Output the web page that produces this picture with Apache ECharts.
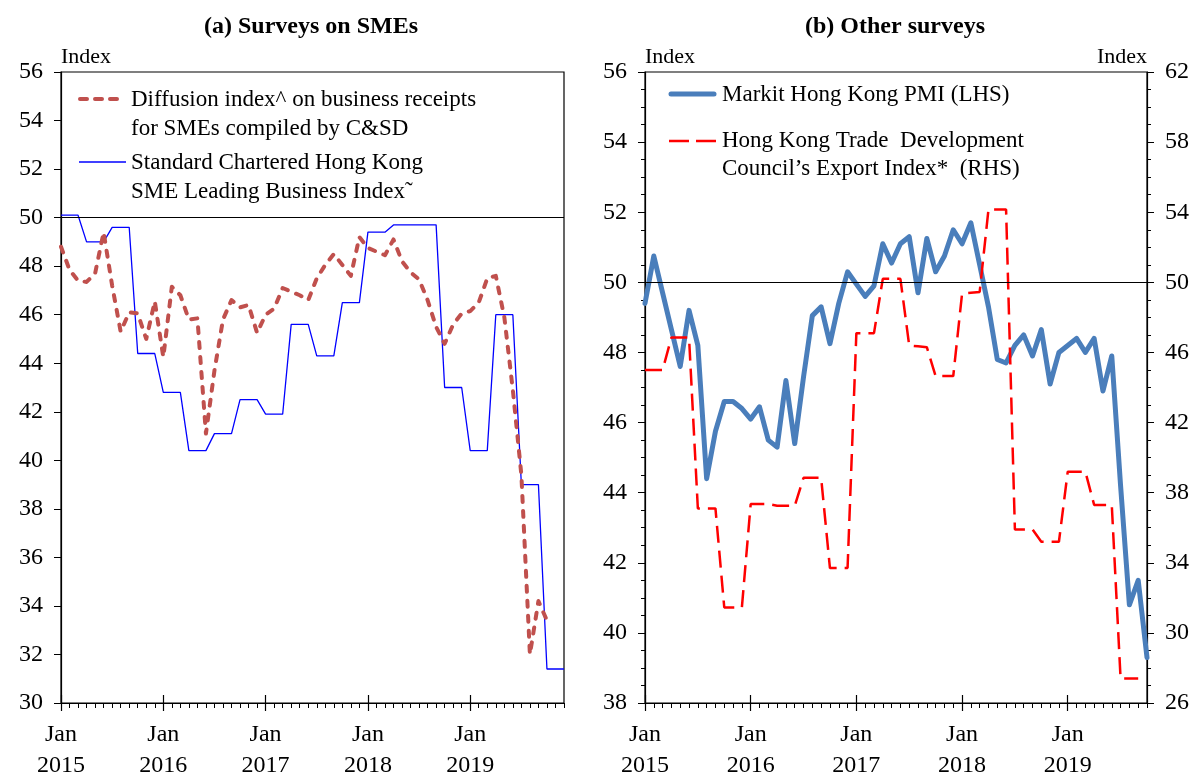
<!DOCTYPE html>
<html>
<head>
<meta charset="utf-8">
<script src="https://cdn.jsdelivr.net/npm/echarts@6/dist/echarts.min.js"></script>
<style>
  html, body { margin: 0; padding: 0; background: #fff; }
  #chart { width: 1198px; height: 773px; }
</style>
</head>
<body>
<div id="chart"></div>
<script>
// tick labels / categories
const yearLabels = ["2015", "2016", "2017", "2018", "2019"];
const monthNames = ["Jan", "Feb", "Mar", "Apr", "May", "Jun", "Jul", "Aug", "Sep", "Oct", "Nov", "Dec"];
const ticksA = [30, 32, 34, 36, 38, 40, 42, 44, 46, 48, 50, 52, 54, 56];
const ticksBLeft = [38, 40, 42, 44, 46, 48, 50, 52, 54, 56];
const ticksBRight = [26, 30, 34, 38, 42, 46, 50, 54, 58, 62];

// (a) C&SD diffusion index on business receipts for SMEs, monthly Jan 2015 - Oct 2019
const smeDiffusion = [
  48.8, 47.85, 47.4, 47.35, 47.7, 49.4, 47.2, 45.3, 46.1, 46.05, 45.0, 46.55,
  44.25, 47.15, 46.8, 45.8, 45.85, 41.1, 43.7, 45.8, 46.6, 46.3, 46.4, 45.25,
  46.0, 46.25, 47.1, 46.95, 46.8, 46.6, 47.5, 48.05, 48.5, 48.05, 47.6, 49.2,
  48.75, 48.6, 48.45, 49.1, 48.2, 47.75, 47.45, 46.6, 45.5, 44.8, 45.6, 46.05,
  46.15, 46.5, 47.5, 47.6, 45.9, 42.9, 39.4, 32.0, 34.2, 33.4
];

// (a) Standard Chartered HK SME Leading Business Index (quarterly, shown monthly), Jan 2015 - Dec 2019
const scSmeIndex = [
  50.1, 50.1, 50.1, 49.0, 49.0, 49.0, 49.6, 49.6, 49.6, 44.4, 44.4, 44.4,
  42.8, 42.8, 42.8, 40.4, 40.4, 40.4, 41.1, 41.1, 41.1, 42.5, 42.5, 42.5,
  41.9, 41.9, 41.9, 45.6, 45.6, 45.6, 44.3, 44.3, 44.3, 46.5, 46.5, 46.5,
  49.4, 49.4, 49.4, 49.7, 49.7, 49.7, 49.7, 49.7, 49.7, 43.0, 43.0, 43.0,
  40.4, 40.4, 40.4, 46.0, 46.0, 46.0, 39.0, 39.0, 39.0, 31.4, 31.4, 31.4
];

// (b) Markit Hong Kong PMI, Jan 2015 - Oct 2019 (LHS)
const pmi = [
  49.4, 50.75, 49.7, 48.65, 47.6, 49.2, 48.2, 44.4, 45.75, 46.6, 46.6, 46.4,
  46.1, 46.45, 45.5, 45.3, 47.2, 45.4, 47.3, 49.05, 49.3, 48.25, 49.4, 50.3,
  49.95, 49.6, 49.9, 51.1, 50.55, 51.1, 51.3, 49.7, 51.25, 50.3, 50.75, 51.5,
  51.1, 51.7, 50.5, 49.3, 47.8, 47.7, 48.2, 48.5, 47.9, 48.65, 47.1, 48.0,
  48.2, 48.4, 48.0, 48.4, 46.9, 47.9, 44.2, 40.8, 41.5, 39.3
];

// (b) HKTDC Export Index (quarterly, shown monthly), Jan 2015 - Sep 2019 (RHS)
const tdcExport = [
  45.0, 45.0, 45.0, 46.85, 46.85, 46.85, 37.1, 37.1, 37.1, 31.45, 31.45, 31.45,
  37.35, 37.35, 37.35, 37.25, 37.25, 37.25, 38.85, 38.85, 38.85, 33.7, 33.7, 33.7,
  47.1, 47.1, 47.1, 50.2, 50.2, 50.2, 46.4, 46.35, 46.3, 44.65, 44.65, 44.65,
  49.35, 49.4, 49.45, 54.15, 54.15, 54.15, 35.9, 35.9, 35.9, 35.2, 35.2, 35.2,
  39.2, 39.2, 39.2, 37.3, 37.3, 37.3, 27.4, 27.4, 27.4
];

const monthsA = [];
yearLabels.forEach(y => monthNames.forEach(m => monthsA.push(m + " " + y)));
const monthsB = monthsA.slice(0, pmi.length);

const SERIF = "Liberation Serif";
const txt = { color: "#000", fontFamily: SERIF, fontSize: 24 };

function xAxes(gridIndex, cats) {
  return [
    {
      gridIndex,
      type: "category",
      position: "bottom",
      data: cats,
      boundaryGap: false,
      axisLine: { lineStyle: { color: "#000", width: 1.2 } },
      axisTick: { interval: 0, length: 5, lineStyle: { color: "#000" } },
      axisLabel: Object.assign({}, txt, {
        interval: (i) => i % 12 === 0,
        formatter: (v) => v.replace(" ", "\n"),
        lineHeight: 31,
        margin: 16
      }),
      splitLine: { show: false }
    },
    {
      // year ticks crossing the axis
      gridIndex,
      type: "category",
      position: "bottom",
      offset: -8,
      data: cats,
      boundaryGap: false,
      axisLine: { show: false },
      axisTick: { interval: (i) => i % 12 === 0, length: 16, lineStyle: { color: "#000", width: 1.2 } },
      axisLabel: { show: false },
      splitLine: { show: false }
    }
  ];
}

function yAxis(gridIndex, ticks, opts) {
  return Object.assign({
    gridIndex,
    type: "value",
    min: ticks[0],
    max: ticks[ticks.length - 1],
    interval: ticks[1] - ticks[0],
    axisLine: { show: true, lineStyle: { color: "#000", width: 1.2 } },
    axisTick: { show: true, length: 7, lineStyle: { color: "#000" } },
    axisLabel: Object.assign({}, txt, { margin: 18 }),
    splitLine: { show: false },
    nameLocation: "end",
    nameGap: 4
  }, opts);
}

function nameStyle(align) {
  return { color: "#000", fontFamily: SERIF, fontSize: 22, verticalAlign: "bottom", align };
}

const line50 = {
  silent: true,
  symbol: "none",
  label: { show: false },
  lineStyle: { color: "#000", width: 1.2, type: "solid" },
  data: [{ yAxis: 50 }]
};

const chart = echarts.init(document.getElementById("chart"), null, { renderer: "canvas" });

chart.setOption({
  animation: false,
  backgroundColor: "#fff",
  grid: [
    { left: 61, top: 72, width: 503, height: 631, outerBoundsMode: "none", containLabel: false, show: true, borderColor: "#000", borderWidth: 1.2, backgroundColor: "transparent" },
    { left: 645, top: 72, width: 502, height: 631, outerBoundsMode: "none", containLabel: false, show: true, borderColor: "#000", borderWidth: 1.2, backgroundColor: "transparent" }
  ],
  xAxis: [].concat(xAxes(0, monthsA), xAxes(1, monthsB)),
  yAxis: [
    yAxis(0, ticksA, { name: "Index", nameTextStyle: nameStyle("left") }),
    yAxis(1, ticksBLeft, {
      name: "Index",
      nameTextStyle: nameStyle("left"),
      minorTick: { show: true, splitNumber: 4, length: 4, lineStyle: { color: "#000" } }
    }),
    yAxis(1, ticksBRight, {
      position: "right",
      name: "Index",
      nameTextStyle: nameStyle("right"),
      minorTick: { show: true, splitNumber: 4, length: 4, lineStyle: { color: "#000" } }
    })
  ],
  series: [
    {
      name: "Standard Chartered Hong Kong SME Leading Business Index",
      type: "line",
      xAxisIndex: 0,
      yAxisIndex: 0,
      data: scSmeIndex,
      symbol: "none",
      lineStyle: { color: "#0000ff", width: 1.3 },
      markLine: line50
    },
    {
      name: "Diffusion index on business receipts for SMEs",
      type: "line",
      xAxisIndex: 0,
      yAxisIndex: 0,
      data: smeDiffusion,
      symbol: "none",
      lineStyle: { color: "#c0504d", width: 4, type: [6, 9], cap: "round", join: "round" }
    },
    {
      name: "Markit Hong Kong PMI",
      type: "line",
      xAxisIndex: 2,
      yAxisIndex: 1,
      data: pmi,
      symbol: "none",
      lineStyle: { color: "#4a7ebb", width: 5, cap: "round", join: "round" },
      markLine: line50
    },
    {
      name: "HKTDC Export Index",
      type: "line",
      xAxisIndex: 2,
      yAxisIndex: 2,
      data: tdcExport,
      symbol: "none",
      lineStyle: { color: "#ff0000", width: 2.5, type: [17, 8] }
    }
  ],
  graphic: [
    // panel titles
    { type: "text", x: 311, y: 27, style: { text: "(a) Surveys on SMEs", font: "bold 24px \"Liberation Serif\"", fill: "#000", align: "center", verticalAlign: "middle", textAlign: "center", textVerticalAlign: "middle" } },
    { type: "text", x: 895, y: 27, style: { text: "(b) Other surveys", font: "bold 24px \"Liberation Serif\"", fill: "#000", align: "center", verticalAlign: "middle", textAlign: "center", textVerticalAlign: "middle" } },
    // legend (a)
    { type: "line", shape: { x1: 80, y1: 99, x2: 122, y2: 99 }, style: { stroke: "#c0504d", lineWidth: 4, lineDash: [7, 8], lineCap: "round" } },
    { type: "text", x: 131, y: 85, style: { text: "Diffusion index^ on business receipts\nfor SMEs compiled by C&SD", font: "23px \"Liberation Serif\"", lineHeight: 29, fill: "#000", verticalAlign: "top", textVerticalAlign: "top" } },
    { type: "line", shape: { x1: 79, y1: 162, x2: 126, y2: 162 }, style: { stroke: "#0000ff", lineWidth: 1.3 } },
    { type: "text", x: 131, y: 148, style: { text: "Standard Chartered Hong Kong\nSME Leading Business Index\u02dc", font: "23px \"Liberation Serif\"", lineHeight: 29, fill: "#000", verticalAlign: "top", textVerticalAlign: "top" } },
    // legend (b)
    { type: "line", shape: { x1: 671, y1: 94, x2: 714, y2: 94 }, style: { stroke: "#4a7ebb", lineWidth: 5, lineCap: "round" } },
    { type: "text", x: 722, y: 80, style: { text: "Markit Hong Kong PMI (LHS)", font: "23px \"Liberation Serif\"", lineHeight: 29, fill: "#000", verticalAlign: "top", textVerticalAlign: "top" } },
    { type: "line", shape: { x1: 669, y1: 141, x2: 716, y2: 141 }, style: { stroke: "#ff0000", lineWidth: 2.5, lineDash: [20, 7] } },
    { type: "text", x: 722, y: 127, style: { text: "Hong Kong Trade  Development\nCouncil\u2019s Export Index*  (RHS)", font: "23px \"Liberation Serif\"", lineHeight: 28, fill: "#000", verticalAlign: "top", textVerticalAlign: "top" } }
  ]
});
</script>
</body>
</html>
